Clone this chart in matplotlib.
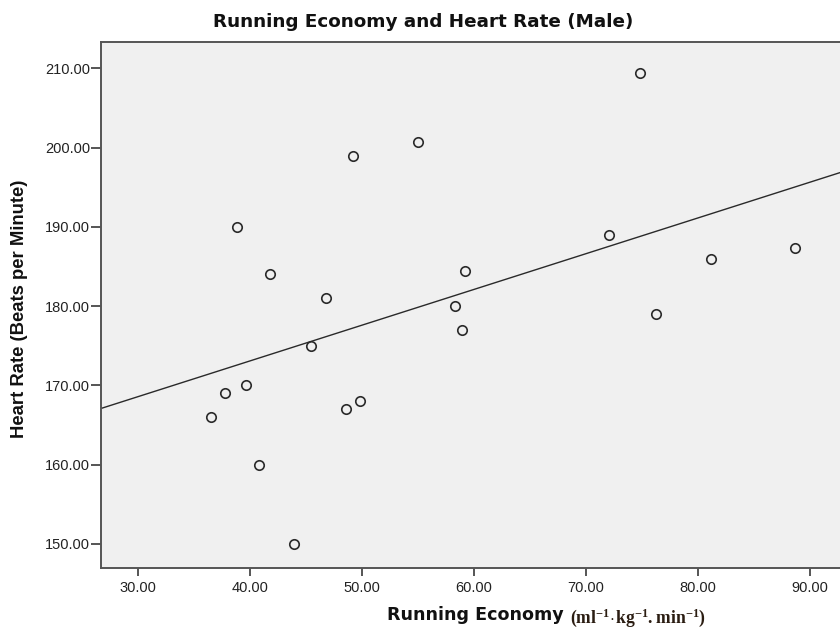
import numpy as np
import matplotlib
matplotlib.use("Agg")
import matplotlib.pyplot as plt

plt.rcParams['font.family'] = ['Liberation Sans', 'DejaVu Sans']
plt.rcParams['mathtext.fontset'] = 'custom'
plt.rcParams['mathtext.rm'] = 'Liberation Serif'
plt.rcParams['mathtext.bf'] = 'Liberation Serif:bold'

# Data
running_economy = [74.85, 55.03, 49.25, 38.89, 41.84, 72.04, 81.14, 88.63, 59.24, 46.81,
                   58.31, 76.21, 58.90, 45.42, 39.65, 37.80, 36.58, 49.84, 48.62, 40.79, 43.98]
heart_rate = [209.4, 200.7, 199.0, 190.0, 184.0, 189.0, 186.0, 187.3, 184.4, 181.0,
              180.0, 179.0, 177.0, 175.0, 170.0, 169.0, 166.0, 168.0, 167.0, 160.0, 150.0]
x_ticks = [30, 40, 50, 60, 70, 80, 90]
y_ticks = [150, 160, 170, 180, 190, 200, 210]

W, H = 840, 634
fig = plt.figure(figsize=(W / 100, H / 100), dpi=100)
fig.patch.set_facecolor('white')

ax = fig.add_axes([101 / W, 1 - 568.3 / H, (842 - 101) / W, (568.3 - 42) / H])
ax.set_facecolor('#f0f0f0')

x = np.array(running_economy)
y = np.array(heart_rate)
xlim = (26.72, 92.85)
ylim = (146.93, 213.32)

# regression line
slope, intercept = np.polyfit(x, y, 1)
xl = np.array(xlim)
ax.plot(xl, intercept + slope * xl, color='#2a2a2a', lw=1.0, zorder=2)

ax.plot(x, y, linestyle='none', marker='o', markersize=6.8, markerfacecolor='none',
        markeredgecolor='#2a2a2a', markeredgewidth=1.2, zorder=3)

ax.set_xlim(*xlim)
ax.set_ylim(*ylim)
ax.set_xticks(x_ticks)
ax.set_yticks(y_ticks)
ax.set_xticklabels([f"{v:.2f}" for v in x_ticks])
ax.set_yticklabels([f"{v:.2f}" for v in y_ticks])

for s in ax.spines.values():
    s.set_color('#555555')
    s.set_linewidth(1.4)
ax.tick_params(axis='both', colors='#555555', labelcolor='#222222', labelsize=10.5, width=1.4)
ax.tick_params(axis='x', length=6, pad=3)
ax.tick_params(axis='y', length=7, pad=1)

bold_family = ['DejaVu Sans']
fig.text(423 / W, 1 - 22 / H, 'Running Economy and Heart Rate (Male)', ha='center', va='center',
         fontsize=13.2, fontweight='bold', color='#111111', family=bold_family)
fig.text(20 / W, 1 - 309 / H, 'Heart Rate (Beats per Minute)', ha='center', va='center',
         rotation=90, fontsize=13.3, fontweight='bold', color='#111111',
         family=['Liberation Sans', 'DejaVu Sans'])

# x label composed of two parts
t1 = fig.text(387 / W, 1 - 620 / H, 'Running Economy', ha='left', va='baseline',
              fontsize=12.6, fontweight='bold', color='#111111', family=bold_family)
fig.canvas.draw()
bb = t1.get_window_extent()
fig.text((bb.x1 + 6) / W, 1 - 623 / H, r'$\mathbf{(ml^{-1}\!\cdot\! kg^{-1}{.}min^{-1})}$',
         ha='left', va='baseline', fontsize=12.7, color='#2b1d12')

fig.savefig('out.png', dpi=100, facecolor='white')
